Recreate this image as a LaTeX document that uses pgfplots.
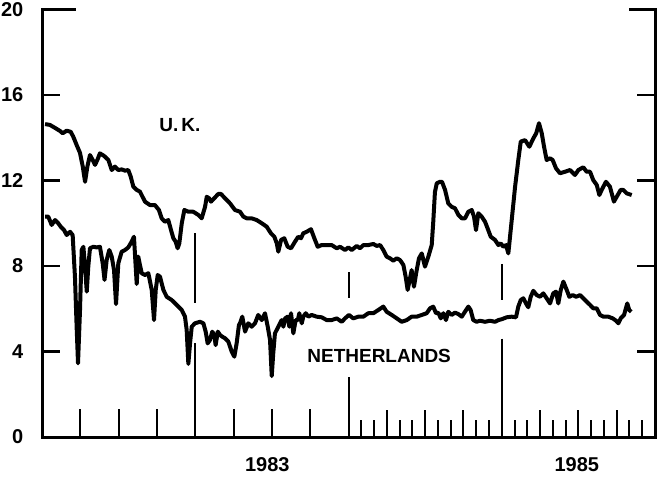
\documentclass[border=0pt]{standalone}
\usepackage{pgfplots}
\pgfplotsset{compat=1.18}
\usepackage{pgfplotstable}
\usepackage{fontspec}
\setmainfont{Liberation Sans}

\pgfplotstableread{
x y
1982.020 14.64
1982.052 14.60
1982.085 14.46
1982.117 14.32
1982.135 14.21
1982.161 14.33
1982.187 14.28
1982.204 14.05
1982.226 13.66
1982.248 13.29
1982.266 12.65
1982.281 11.94
1982.296 12.65
1982.313 13.19
1982.331 12.96
1982.346 12.73
1982.361 12.96
1982.378 13.27
1982.405 13.15
1982.433 12.96
1982.455 12.49
1982.476 12.65
1982.498 12.49
1982.520 12.52
1982.542 12.46
1982.563 12.49
1982.579 12.18
1982.596 11.71
1982.618 11.56
1982.639 11.48
1982.672 11.01
1982.705 10.85
1982.737 10.85
1982.763 10.62
1982.781 10.23
1982.802 10.07
1982.824 10.15
1982.842 9.68
1982.857 9.30
1982.872 9.14
1982.885 8.83
1982.896 9.06
1982.912 10.00
1982.929 10.62
1982.955 10.54
1982.987 10.54
1983.020 10.39
1983.042 10.23
1983.064 10.77
1983.075 11.24
1983.090 11.17
1983.103 11.01
1983.124 11.17
1983.150 11.37
1983.168 11.37
1983.194 11.17
1983.227 10.93
1983.259 10.62
1983.292 10.54
1983.314 10.31
1983.336 10.23
1983.368 10.23
1983.401 10.15
1983.434 10.00
1983.466 9.84
1983.494 9.53
1983.516 9.37
1983.532 9.06
1983.542 8.67
1983.560 9.22
1983.581 9.30
1983.603 8.90
1983.625 8.83
1983.651 9.14
1983.672 9.37
1983.690 9.30
1983.705 9.53
1983.727 9.60
1983.755 9.72
1983.777 9.30
1983.799 8.90
1983.825 8.98
1983.858 8.98
1983.890 8.98
1983.923 8.83
1983.945 8.90
1983.977 8.75
1983.999 8.87
1984.021 8.75
1984.054 8.94
1984.075 8.83
1984.097 8.98
1984.129 8.98
1984.162 9.03
1984.184 8.94
1984.206 8.98
1984.227 8.75
1984.249 8.44
1984.271 8.36
1984.292 8.25
1984.315 8.36
1984.336 8.28
1984.358 8.05
1984.373 7.50
1984.386 6.88
1984.401 7.42
1984.412 7.81
1984.427 7.03
1984.445 7.81
1984.460 8.36
1984.478 8.59
1984.499 7.97
1984.521 8.44
1984.543 8.98
1984.553 10.06
1984.564 11.46
1984.576 11.87
1984.597 11.94
1984.610 11.94
1984.630 11.56
1984.651 10.93
1984.673 10.77
1984.695 10.70
1984.717 10.39
1984.739 10.23
1984.760 10.23
1984.782 10.54
1984.804 10.62
1984.819 10.31
1984.832 9.68
1984.847 10.47
1984.869 10.31
1984.891 10.07
1984.912 9.68
1984.928 9.37
1984.956 9.22
1984.978 8.98
1984.993 9.06
1985.010 8.90
1985.028 8.98
1985.043 8.59
1985.065 10.15
1985.087 11.71
1985.108 12.96
1985.124 13.82
1985.152 13.89
1985.180 13.58
1985.206 13.97
1985.225 14.21
1985.243 14.68
1985.261 14.21
1985.276 13.58
1985.293 12.96
1985.315 13.04
1985.332 12.96
1985.354 12.57
1985.380 12.34
1985.413 12.41
1985.445 12.49
1985.478 12.26
1985.500 12.49
1985.532 12.62
1985.554 12.41
1985.576 12.41
1985.597 12.02
1985.620 11.79
1985.637 11.32
1985.652 11.56
1985.680 11.94
1985.706 11.71
1985.732 11.01
1985.750 11.24
1985.776 11.56
1985.793 11.56
1985.815 11.40
1985.848 11.32
}\uk

\pgfplotstableread{
x y
1982.020 10.31
1982.041 10.31
1982.063 9.92
1982.085 10.15
1982.106 10.00
1982.122 9.84
1982.144 9.68
1982.161 9.45
1982.183 9.60
1982.200 9.45
1982.215 7.50
1982.226 5.16
1982.235 3.45
1982.248 5.94
1982.259 8.75
1982.270 8.90
1982.281 7.97
1982.292 6.80
1982.302 7.97
1982.313 8.83
1982.335 8.90
1982.357 8.87
1982.378 8.90
1982.396 8.13
1982.408 7.35
1982.422 8.28
1982.439 8.75
1982.455 8.44
1982.470 7.81
1982.483 6.22
1982.498 8.13
1982.520 8.67
1982.542 8.75
1982.563 8.87
1982.585 9.14
1982.600 9.37
1982.618 7.16
1982.628 8.44
1982.639 8.05
1982.651 7.66
1982.672 7.58
1982.694 7.66
1982.716 6.88
1982.731 5.47
1982.742 6.88
1982.755 7.58
1982.770 7.50
1982.792 6.88
1982.814 6.56
1982.846 6.41
1982.879 6.18
1982.912 5.94
1982.933 5.63
1982.944 5.01
1982.955 3.42
1982.966 4.38
1982.977 5.16
1982.998 5.32
1983.031 5.39
1983.053 5.32
1983.068 4.93
1983.081 4.38
1983.096 4.54
1983.111 4.93
1983.124 4.77
1983.133 4.30
1983.147 4.93
1983.162 4.77
1983.177 4.69
1983.194 4.62
1983.216 4.46
1983.238 3.99
1983.255 3.76
1983.270 4.38
1983.285 5.24
1983.292 5.32
1983.307 5.63
1983.325 4.93
1983.346 5.32
1983.368 5.16
1983.390 5.32
1983.411 5.71
1983.434 5.47
1983.455 5.79
1983.473 5.16
1983.488 4.54
1983.499 2.85
1983.509 3.92
1983.520 4.85
1983.542 5.16
1983.564 5.47
1983.575 5.16
1983.586 5.55
1983.603 5.63
1983.614 5.16
1983.625 5.79
1983.640 4.85
1983.655 5.47
1983.669 5.47
1983.679 5.79
1983.695 5.32
1983.705 5.63
1983.721 5.79
1983.738 5.63
1983.760 5.71
1983.792 5.63
1983.825 5.60
1983.858 5.47
1983.890 5.47
1983.923 5.55
1983.956 5.39
1983.977 5.55
1984.003 5.71
1984.031 5.55
1984.064 5.63
1984.097 5.63
1984.129 5.79
1984.162 5.79
1984.194 5.94
1984.227 6.10
1984.249 5.86
1984.282 5.71
1984.315 5.55
1984.347 5.39
1984.380 5.47
1984.412 5.63
1984.445 5.63
1984.478 5.71
1984.510 5.79
1984.532 6.02
1984.553 6.10
1984.571 5.79
1984.586 5.82
1984.602 5.55
1984.619 5.79
1984.636 5.47
1984.651 5.86
1984.673 5.71
1984.695 5.82
1984.717 5.75
1984.739 5.63
1984.760 5.86
1984.782 6.10
1984.797 5.94
1984.814 5.47
1984.837 5.39
1984.858 5.44
1984.891 5.39
1984.923 5.44
1984.956 5.39
1984.978 5.47
1985.000 5.51
1985.032 5.60
1985.065 5.63
1985.093 5.60
1985.108 6.10
1985.124 6.41
1985.141 6.49
1985.158 6.25
1985.173 6.07
1985.189 6.56
1985.206 6.84
1985.228 6.64
1985.250 6.56
1985.271 6.72
1985.293 6.49
1985.315 6.25
1985.336 6.72
1985.354 6.80
1985.369 6.25
1985.385 6.88
1985.402 7.27
1985.424 6.88
1985.441 6.56
1985.463 6.64
1985.485 6.56
1985.511 6.64
1985.532 6.49
1985.554 6.33
1985.576 6.18
1985.597 6.02
1985.620 6.02
1985.641 5.71
1985.663 5.63
1985.695 5.63
1985.724 5.55
1985.746 5.44
1985.761 5.32
1985.776 5.55
1985.798 5.71
1985.819 6.25
1985.832 5.94
1985.845 5.86
}\nl

\begin{document}
\begin{tikzpicture}
\useasboundingbox (-21pt,-23pt) rectangle (310pt,218.5pt);
\begin{axis}[
  at={(0pt,0pt)}, anchor=south west,
  scale only axis, width=306.5pt, height=213.75pt,
  xmin=1982, xmax=1986, ymin=0, ymax=20,
  axis x line*=bottom, axis y line*=left,
  axis line style={draw=none},
  tick style={draw=none},
  xtick=\empty,
  ytick={0,4,8,12,16,20},
  yticklabel style={font=\fontsize{10}{12}\selectfont\bfseries, xshift=-5.8pt},
  /pgf/number format/assume math mode=true,
  clip=false,
]
% frame
\draw[line width=1.5pt, line cap=rect] (axis cs:1982,20) -- (axis cs:1982,0) -- (axis cs:1986,0) -- (axis cs:1986,20);
\draw[line width=1.5pt, line cap=rect] (axis cs:1982,20) -- (axis cs:1982.209,20);
\draw[line width=1.5pt, line cap=rect] (axis cs:1986,20) -- (axis cs:1985.837,20);
\pgfplotsinvokeforeach{4,8,12,16}{
  \draw[line width=1.2pt] (axis cs:1982,#1) -- (axis cs:1982.117,#1);
  \draw[line width=1.2pt] (axis cs:1986,#1) -- (axis cs:1985.883,#1);
}
% bottom ticks
\pgfplotsinvokeforeach{1982.25,1982.5,1982.75,1983.25,1983.5,1983.75}{
  \draw[line width=1pt] (axis cs:#1,0) -- (axis cs:#1,1.31);
}
\pgfplotsinvokeforeach{1984.25,1984.5,1984.75,1985.25,1985.5,1985.75}{
  \draw[line width=1pt] (axis cs:#1,0) -- (axis cs:#1,1.26);
}
\pgfplotsinvokeforeach{1984.0833,1984.1667,1984.3333,1984.4167,1984.5833,1984.6667,1984.8333,1984.9167,1985.0833,1985.1667,1985.3333,1985.4167,1985.5833,1985.6667,1985.8333,1985.9167}{
  \draw[line width=1pt] (axis cs:#1,0) -- (axis cs:#1,0.8);
}
% year separators
\draw[line width=1pt] (axis cs:1983,9.53) -- (axis cs:1983,6.26);
\draw[line width=1pt] (axis cs:1983,4.39) -- (axis cs:1983,0);
\draw[line width=1pt] (axis cs:1984,7.7) -- (axis cs:1984,6.5);
\draw[line width=1pt] (axis cs:1984,2.8) -- (axis cs:1984,0);
\draw[line width=1pt] (axis cs:1985,8.1) -- (axis cs:1985,6.4);
\draw[line width=1pt] (axis cs:1985,4.6) -- (axis cs:1985,0);
% series
\addplot[black, line width=2pt, line join=round, mark=none] table[x=x,y=y] {\uk};
\addplot[black, line width=2pt, line join=round, mark=none] table[x=x,y=y] {\nl};
% labels
\node[font=\fontsize{9.5}{11}\selectfont\bfseries] at (axis cs:1982.90,14.60) {U.\,K.};
\node[font=\fontsize{9.5}{11}\selectfont\bfseries] at (axis cs:1984.20,3.81) {NETHERLANDS};
\node[font=\fontsize{10}{12}\selectfont\bfseries] at (axis cs:1983.47,-1.31) {1983};
\node[font=\fontsize{10}{12}\selectfont\bfseries] at (axis cs:1985.49,-1.31) {1985};
\end{axis}
\end{tikzpicture}
\end{document}
